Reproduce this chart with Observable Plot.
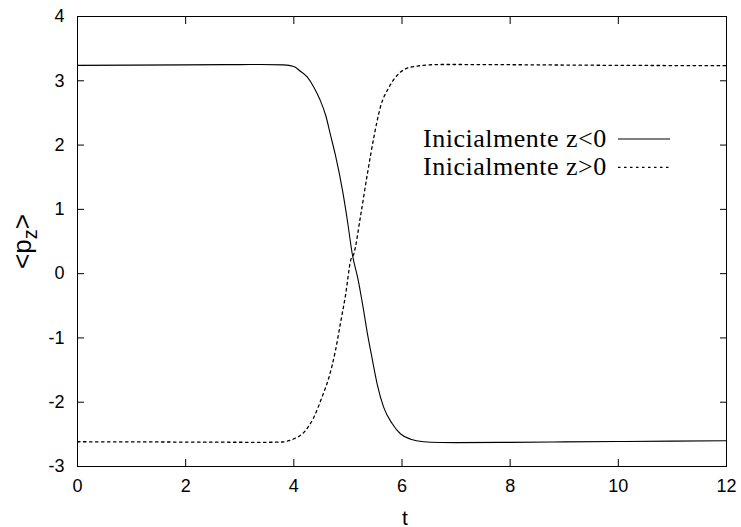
<!DOCTYPE html>
<html><head><meta charset="utf-8">
<script src="https://cdn.jsdelivr.net/npm/d3@7"></script>
<script src="https://cdn.jsdelivr.net/npm/@observablehq/plot@0.6"></script>
<style>body{margin:0;background:#fff} #chart svg{display:block}</style>
</head><body><div id="chart"></div>
<script>
// Series "Inicialmente z<0" (solid)
const tNeg = [0, 1, 2, 3, 3.38, 3.81, 4.0, 4.12, 4.25, 4.37, 4.49, 4.59, 4.68, 4.77, 4.90, 4.99, 5.08, 5.19, 5.28, 5.36, 5.45, 5.54, 5.66, 5.82, 5.97, 6.16, 6.40, 6.71, 7, 8, 9, 10, 11, 12];
const pNeg = [3.24, 3.243, 3.247, 3.252, 3.253, 3.248, 3.222, 3.149, 3.056, 2.90, 2.693, 2.46, 2.149, 1.838, 1.294, 0.827, 0.309, -0.10, -0.52, -0.93, -1.33, -1.713, -2.077, -2.335, -2.491, -2.575, -2.615, -2.626, -2.628, -2.624, -2.617, -2.611, -2.605, -2.60];
// Series "Inicialmente z>0" (dotted)
const tPos = [0, 1, 2, 3, 3.38, 3.75, 4.0, 4.19, 4.37, 4.52, 4.65, 4.77, 4.86, 4.96, 5.05, 5.11, 5.23, 5.36, 5.48, 5.60, 5.76, 5.97, 6.22, 6.71, 7, 8, 9, 10, 11, 12];
const pPos = [-2.615, -2.617, -2.62, -2.623, -2.624, -2.62, -2.57, -2.466, -2.233, -1.922, -1.611, -1.195, -0.78, -0.313, 0.205, 0.309, 0.878, 1.553, 2.123, 2.589, 2.90, 3.134, 3.222, 3.253, 3.253, 3.25, 3.245, 3.24, 3.237, 3.235];
const xTicks = [0, 2, 4, 6, 8, 10, 12];
const yTicks = [-3, -2, -1, 0, 1, 2, 3, 4];
const seriesLabels = ["Inicialmente z<0", "Inicialmente z>0"];
const xLabel = "t";

const neg = tNeg.map((t, i) => ({t, p: pNeg[i]}));
const pos = tPos.map((t, i) => ({t, p: pPos[i]}));
const DOTS = "2.5,3.5";
const noText = () => "";

const chart = Plot.plot({
  width: 741, height: 527,
  marginLeft: 77, marginRight: 15, marginTop: 16, marginBottom: 61,
  style: {fontFamily: "'Liberation Sans', Arial, sans-serif", fontSize: "18px", color: "#000", background: "#fff", overflow: "visible"},
  x: {domain: [0, 12]},
  y: {domain: [-3, 4]},
  marks: [
    Plot.line(neg, {x: "t", y: "p", stroke: "#000", strokeWidth: 1.1, curve: "monotone-x"}),
    Plot.line(pos, {x: "t", y: "p", stroke: "#000", strokeWidth: 1.3, strokeDasharray: DOTS, curve: "monotone-x"}),
    // inward ticks on all four sides
    Plot.axisX(xTicks, {anchor: "bottom", tickSize: 7, dy: -7, tickFormat: noText, label: null, stroke: "#000"}),
    Plot.axisX(xTicks, {anchor: "top", tickSize: 7, dy: 7, tickFormat: noText, label: null, stroke: "#000"}),
    Plot.axisY(yTicks, {anchor: "left", tickSize: 7, dx: 7, tickFormat: noText, label: null, stroke: "#000"}),
    Plot.axisY(yTicks, {anchor: "right", tickSize: 7, dx: -7, tickFormat: noText, label: null, stroke: "#000"}),
    // tick labels
    Plot.axisX(xTicks, {anchor: "bottom", tickSize: 0, tickPadding: 13, tickFormat: d => String(d), label: null, fill: "#000"}),
    Plot.axisY(yTicks, {anchor: "left", tickSize: 0, tickPadding: 13, tickFormat: d => String(d), label: null, fill: "#000"}),
    Plot.text([xLabel], {text: d => d, frameAnchor: "bottom", dy: 58, dx: 3, lineAnchor: "bottom", fontSize: 21, fill: "#000"}),
    Plot.frame({stroke: "#000", strokeWidth: 1})
  ]
});
document.getElementById("chart").appendChild(chart);

// y-axis label with subscript
const svg = d3.select(chart);
const yl = svg.append("text")
  .attr("transform", "translate(31,241.5) rotate(-90)")
  .attr("text-anchor", "middle")
  .attr("font-family", "'Liberation Sans', Arial, sans-serif")
  .attr("font-size", 26)
  .attr("fill", "#000");
yl.append("tspan").text("<p");
yl.append("tspan").attr("font-size", 20).attr("dy", 6).text("z");
yl.append("tspan").attr("dy", -6).text(">");

// legend (key)
const key = svg.append("g").attr("font-family", "'Liberation Serif', 'Times New Roman', serif").attr("font-size", 26).attr("fill", "#000");
const keyRows = [{y: 146.7, ly: 139, dash: null}, {y: 175, ly: 167.3, dash: DOTS}];
seriesLabels.forEach((lab, i) => {
  const r = keyRows[i];
  key.append("text").attr("x", 606.7).attr("y", r.y).attr("text-anchor", "end").attr("letter-spacing", "0.5px").text(lab);
  const ln = key.append("line").attr("x1", 618).attr("x2", 670).attr("y1", r.ly).attr("y2", r.ly)
    .attr("stroke", "#000").attr("stroke-width", r.dash ? 1.3 : 1.1);
  if (r.dash) ln.attr("stroke-dasharray", r.dash);
});
</script>
</body></html>
